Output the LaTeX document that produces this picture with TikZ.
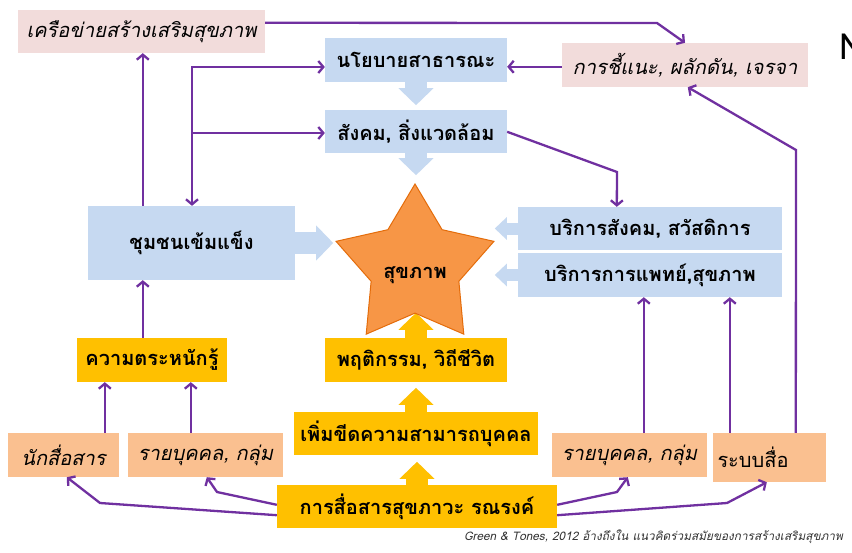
\documentclass[tikz,border=0pt]{standalone}
\usepackage{fontspec}
\setmainfont[Script=Thai]{Loma}
\usetikzlibrary{arrows.meta,shapes.geometric,calc}
\definecolor{pblue}{HTML}{C6D9F1}
\definecolor{ppink}{HTML}{F2DCDB}
\definecolor{pyel}{HTML}{FFC000}
\definecolor{ppeach}{HTML}{FAC090}
\definecolor{porange}{HTML}{F79646}
\definecolor{porangeD}{HTML}{E46C0A}
\definecolor{ppurple}{HTML}{7030A0}
\tikzset{
  box/.style={inner sep=0pt, font=\fontsize{20}{23}\selectfont, text=black},
  bluebox/.style={box, fill=pblue, font=\fontsize{20}{23}\selectfont\bfseries},
  yelbox/.style={box, fill=pyel, font=\fontsize{20}{23}\selectfont\bfseries},
  pinkbox/.style={box, fill=ppink, font=\fontsize{20}{23}\selectfont\itshape},
  peachbox/.style={box, fill=ppeach, font=\fontsize{20}{23}\selectfont\itshape},
  conn/.style={draw=ppurple, line width=2.3pt, -{Straight Barb[length=5pt,width=12pt]}},
  blk/.style={line width=22pt, -{Triangle[length=17pt,width=34pt]}},
  blksmall/.style={line width=12pt, -{Triangle[length=12pt,width=22pt]}},
}
\begin{document}
\begin{tikzpicture}[x=1pt,y=-1pt]
\useasboundingbox (0,0) rectangle (852,552);
\fill[white] (0,0) rectangle (852,552);

% boxes
\node[pinkbox, minimum width=247pt, minimum height=43pt] (net) at (141.5,31.5) {เครือข่ายสร้างเสริมสุขภาพ};
\node[bluebox, minimum width=182pt, minimum height=44pt] (nayo) at (416,60) {นโยบายสาธารณะ};
\node[bluebox, minimum width=182pt, minimum height=43pt] (soc) at (416,131.5) {สังคม, สิ่งแวดล้อม};
\node[pinkbox, minimum width=246pt, minimum height=44pt] (adv) at (685,65) {การชี้แนะ, ผลักดัน, เจรจา};
\node[bluebox, minimum width=207pt, minimum height=74pt] (comm) at (191.5,243) {ชุมชนเข้มแข็ง};
\node[bluebox, minimum width=264pt, minimum height=43pt] (serv1) at (650,228.5) {บริการสังคม, สวัสดิการ};
\node[bluebox, minimum width=264pt, minimum height=44pt] (serv2) at (650,275) {บริการการแพทย์,สุขภาพ};
\node[yelbox, minimum width=150pt, minimum height=44pt] (aware) at (152,360) {ความตระหนักรู้};
\node[yelbox, minimum width=182pt, minimum height=44pt] (behav) at (416,360) {พฤติกรรม, วิถีชีวิต};
\node[yelbox, minimum width=244pt, minimum height=43pt] (cap) at (416,433.5) {เพิ่มขีดความสามารถบุคคล};
\node[yelbox, minimum width=280pt, minimum height=43pt] (hcom) at (417,506.5) {การสื่อสารสุขภาวะ รณรงค์};
\node[peachbox, minimum width=111pt, minimum height=44pt] (comr) at (63.5,455) {นักสื่อสาร};
\node[peachbox, minimum width=155pt, minimum height=44pt] (indl) at (205.5,455) {รายบุคคล, กลุ่ม};
\node[peachbox, minimum width=155pt, minimum height=44pt] (indr) at (629.5,455) {รายบุคคล, กลุ่ม};
\node[box, fill=ppeach, minimum width=113pt, minimum height=49pt, text width=104pt, align=left] (media) at (769.5,457.5) {ระบบสื่อ};

% block arrows
\draw[blk, pblue] (nayo.south) -- ++(0,23);
\draw[blk, pblue] (soc.south) -- ++(0,22);
\draw[blk, pblue] (comm.east) -- ++(38,0);
\draw[blksmall, pblue] (serv1.west) -- ++(-23,0);
\draw[blksmall, pblue] (serv2.west) -- ++(-23,0);
\draw[blk, pyel] (behav.north) -- ++(0,-25);
\draw[blk, pyel] (cap.north) -- ++(0,-24);
\draw[blk, pyel] (hcom.north) -- ++(0,-23);

% star
\node[star, star points=5, star point ratio=1.8, minimum size=166pt, inner sep=0pt,
      fill=porange, draw=porangeD, line width=1pt] (star) at (415,267) {};
\node[font=\fontsize{20}{23}\selectfont\bfseries] (starlbl) at (415,275) {สุขภาพ};

% connectors
\draw[conn] ($(net.north east)+(0,13)$) -- (657,23) -- (adv.north);
\draw[conn] ($(comm.north west)+(55,0)$) -- ($(net.south west)+(125,0)$);
\coordinate (j1) at (192,67);
\coordinate (j2) at (192,133);
\draw[conn, {Straight Barb[length=5pt,width=12pt]}-{Straight Barb[length=5pt,width=12pt]}] (j1 -| nayo.west) -- (j1) -- (j1 |- comm.north);
\draw[conn] (j2) -- (j2 -| soc.west);
\draw[conn] ($(adv.north west)+(0,24)$) -- ($(nayo.north east)+(0,29)$);
\draw[conn] ($(soc.north east)+(0,22)$) -- (617,172) -- ($(serv1.north west)+(99,0)$);
\draw[conn] ($(media.north west)+(83,0)$) -- (796,150) -- ($(adv.south west)+(126,0)$);
\draw[conn] ($(indr.north west)+(92,0)$) -- ($(serv2.south west)+(126,0)$);
\draw[conn] ($(media.north west)+(17,0)$) -- ($(serv2.south west)+(212,0)$);
\draw[conn] ($(aware.north west)+(66,0)$) -- ($(comm.south west)+(55,0)$);
\draw[conn] ($(comr.north west)+(97,0)$) -- ($(aware.south west)+(28,0)$);
\draw[conn] ($(indl.north west)+(63,0)$) -- ($(aware.south west)+(114,0)$);
\draw[conn] ($(hcom.south west)+(0,-13)$) -- (100,503) -- ($(comr.south west)+(59,0)$);
\draw[conn] ($(hcom.north west)+(0,20)$) -- (217,492) -- ($(indl.south west)+(79,0)$);
\draw[conn] ($(hcom.north east)+(0,20)$) -- (617,492) -- ($(indr.south west)+(76,0)$);
\draw[conn] ($(hcom.south east)+(0,-13)$) -- (727,503) -- ($(media.south west)+(54,0)$);

% footer and stray letter
\node[anchor=east, inner sep=0pt, font=\fontsize{11.8}{13}\selectfont\itshape, text=black!80] (foot) at (843,537) {Green \& Tones, 2012 อ้างถึงใน แนวคิดร่วมสมัยของการสร้างเสริมสุขภาพ};
\node[anchor=west, inner sep=0pt, font=\fontsize{36}{40}\selectfont] (nn) at (839,47) {N};
\end{tikzpicture}
\end{document}
